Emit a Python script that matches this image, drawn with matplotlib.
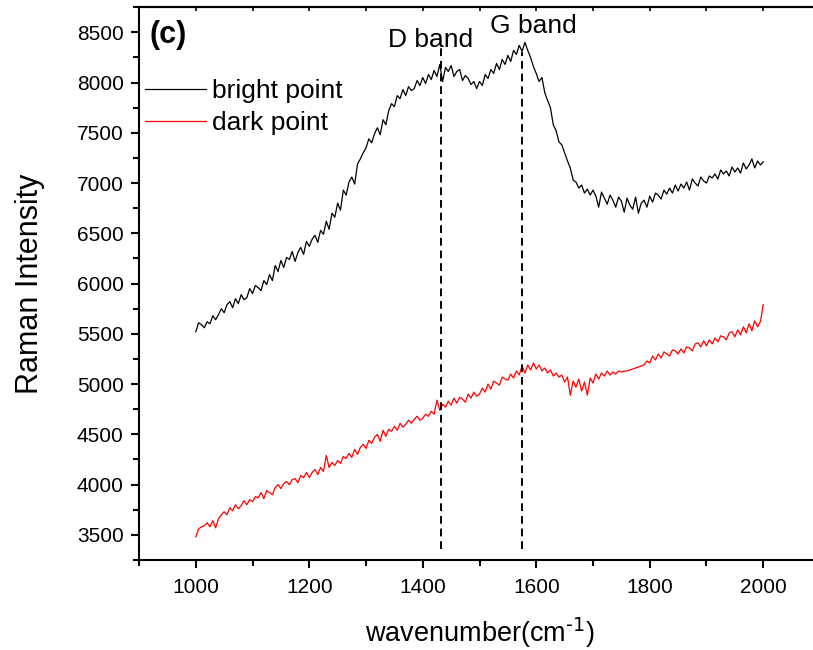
import numpy as np
import matplotlib.pyplot as plt

plt.rcParams['font.family'] = ['Liberation Sans', 'DejaVu Sans']

# wavenumber grid, 5 cm-1 steps from 1000 to 2000
wavenumber = np.arange(1000, 2001, 5)

bright_point = [
    5520, 5610, 5590, 5560, 5620, 5600, 5680, 5640, 5690, 5750,
    5710, 5790, 5820, 5760, 5850, 5800, 5890, 5840, 5860, 5950,
    5900, 5980, 5960, 5930, 6030, 5990, 6090, 6030, 6180, 6120,
    6230, 6160, 6260, 6240, 6320, 6220, 6310, 6360, 6290, 6420,
    6370, 6440, 6480, 6410, 6530, 6490, 6620, 6540, 6700, 6660,
    6800, 6730, 6930, 6880, 7010, 7060, 6990, 7190, 7240, 7300,
    7350, 7440, 7400, 7490, 7550, 7480, 7630, 7580, 7720, 7790,
    7760, 7870, 7840, 7930, 7870, 7960, 7920, 7940, 8020, 7970,
    8050, 7990, 8080, 8030, 8120, 8060, 8180, 8010, 8150, 8110,
    8170, 8060, 8110, 8130, 8020, 8070, 8040, 7980, 8010, 7940,
    8010, 7970, 8080, 8040, 8130, 8090, 8190, 8130, 8230, 8180,
    8270, 8210, 8320, 8280, 8370, 8310, 8400, 8320, 8250, 8160,
    8090, 8010, 8050, 7900, 7820, 7750, 7580, 7520, 7410, 7380,
    7300, 7220, 7150, 7030, 7010, 6950, 6980, 6900, 6940, 6880,
    6930, 6870, 6760, 6910, 6850, 6790, 6880, 6830, 6760, 6860,
    6820, 6710, 6850, 6780, 6740, 6860, 6700, 6800, 6830, 6760,
    6870, 6810, 6900, 6880, 6840, 6930, 6890, 6950, 6900, 6980,
    6920, 6990, 6950, 7010, 6930, 7040, 7000, 6970, 7060, 7020,
    7000, 7070, 7050, 7090, 7040, 7130, 7090, 7120, 7070, 7160,
    7110, 7150, 7100, 7200, 7140, 7180, 7240, 7150, 7220, 7180,
    7210,
]

dark_point = [
    3480, 3560, 3580, 3590, 3620, 3580, 3640, 3570, 3660, 3700,
    3730, 3700, 3770, 3740, 3800, 3760, 3790, 3840, 3800, 3850,
    3830, 3880, 3870, 3920, 3860, 3940, 3920, 3900, 3970, 4000,
    3960, 4010, 4030, 4000, 4050, 4060, 4020, 4090, 4070, 4120,
    4070, 4120, 4150, 4100, 4170, 4130, 4290, 4170, 4220, 4190,
    4240, 4210, 4280, 4260, 4310, 4270, 4350, 4300, 4370, 4400,
    4360, 4440, 4410, 4470, 4500, 4430, 4540, 4480, 4550, 4530,
    4580, 4540, 4610, 4570, 4600, 4640, 4610, 4650, 4680, 4640,
    4660, 4700, 4680, 4730, 4700, 4840, 4740, 4800, 4770, 4830,
    4790, 4860, 4810, 4870, 4850, 4820, 4900, 4860, 4920, 4880,
    4900, 4960, 4920, 5000, 4950, 5030, 5010, 4990, 5070, 5050,
    5040, 5100, 5060, 5130, 5090, 5180, 5110, 5190, 5140, 5210,
    5150, 5190, 5130, 5160, 5110, 5140, 5080, 5110, 5070, 5090,
    5020, 5070, 4890, 5030, 4970, 5050, 4930, 5020, 4890, 5060,
    5010, 5100, 5050, 5110, 5080, 5130, 5090, 5120, 5100, 5130,
    5120, 5130, 5130, 5140, 5150, 5160, 5170, 5180, 5190, 5230,
    5210, 5280, 5240, 5300, 5260, 5320, 5300, 5280, 5340, 5330,
    5300, 5350, 5310, 5370, 5360, 5330, 5400, 5410, 5370, 5430,
    5380, 5440, 5400, 5460, 5420, 5480, 5470, 5440, 5510, 5520,
    5470, 5540, 5490, 5570, 5510, 5600, 5530, 5630, 5570, 5620,
    5790,
]

# band positions (cm-1) and extent of the dashed markers
band_pos = [1433, 1575]
band_names = ["D band", "G band"]
band_top = [8350, 8300]
band_bottom = 3360

fig = plt.figure(figsize=(8.13, 6.5), dpi=100)
ax = fig.add_axes([0.171, 0.1385, 0.8376, 0.8505])

ax.plot(wavenumber, bright_point, color='black', lw=0.9, label="bright point")
ax.plot(wavenumber, dark_point, color='red', lw=0.9, label="dark point")

for xp, top in zip(band_pos, band_top):
    ax.plot([xp, xp], [band_bottom, top], color='black', lw=1.4,
            linestyle=(0, (4, 2.5)))

ax.text(1413, 8420, band_names[0], fontsize=19, ha='center', va='center')
ax.text(1595, 8560, band_names[1], fontsize=19, ha='center', va='center')
ax.text(0.016, 0.949, "(c)", transform=ax.transAxes, fontsize=22,
        fontweight='bold', ha='left', va='center')

ax.set_xlim(900, 2100)
ax.set_ylim(3250, 8750)
ax.set_xticks([1000, 1200, 1400, 1600, 1800, 2000])
ax.set_xticks(np.arange(900, 2101, 100), minor=True)
ax.set_yticks(np.arange(3500, 8501, 500))
ax.set_yticks(np.arange(3250, 8751, 250), minor=True)

for s in ax.spines.values():
    s.set_linewidth(1.5)
ax.tick_params(which='major', direction='out', length=6, width=1.5,
               labelsize=15, pad=7)
ax.tick_params(which='minor', direction='out', length=4, width=1.5)
ax.tick_params(axis='y', which='major', pad=5)

top = ax.secondary_xaxis('top')
top.set_xticks(np.arange(900, 2101, 100))
top.tick_params(direction='in', length=3, width=1.2, labeltop=False)
top.spines['top'].set_linewidth(1.5)

ax.set_xlabel(r"wavenumber(cm$^{\text{-1}}$)", fontsize=19.5, labelpad=13)
ax.set_ylabel("Raman Intensity", fontsize=22, labelpad=23)

ax.legend(loc='upper left', bbox_to_anchor=(0.0088, 0.8705), frameon=False,
          fontsize=19, handlelength=2.3, handletextpad=0.25,
          labelspacing=0.33, borderpad=0, borderaxespad=0)

fig.savefig("out.png", dpi=100)
